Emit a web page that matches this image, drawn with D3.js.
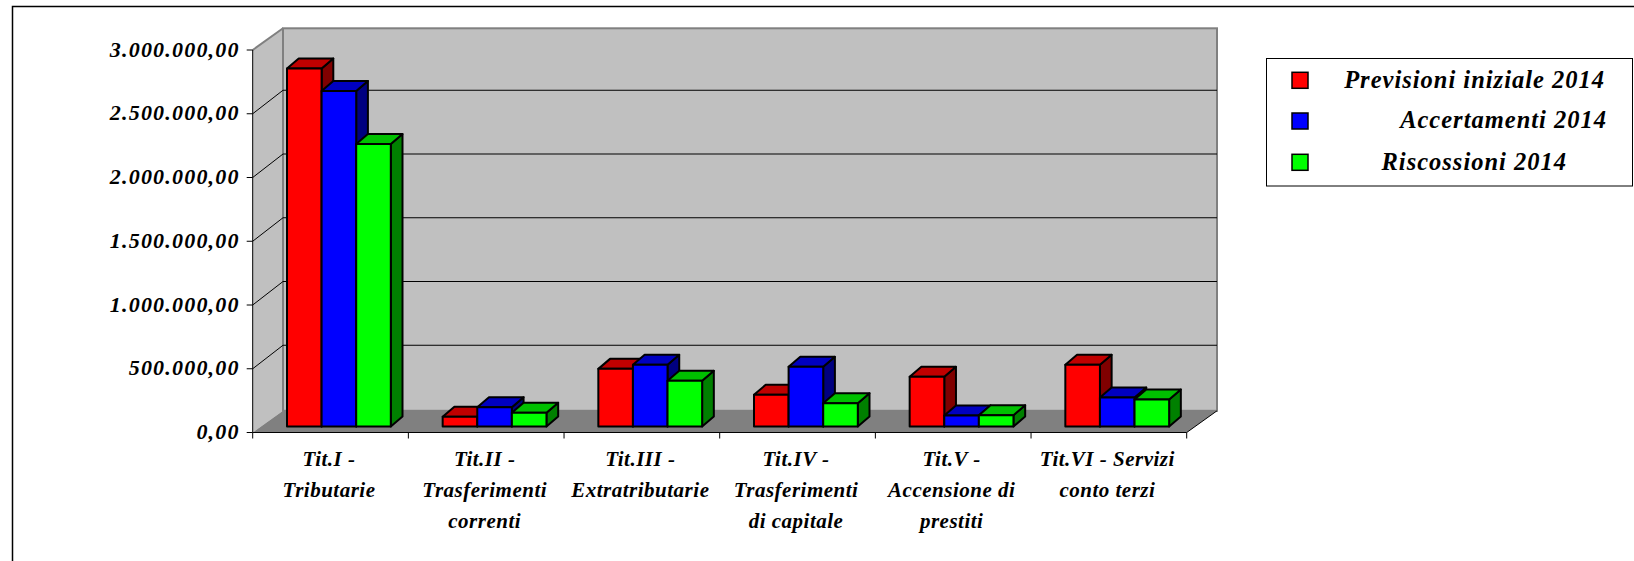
<!DOCTYPE html>
<html><head><meta charset="utf-8">
<script src="https://cdnjs.cloudflare.com/ajax/libs/d3/7.8.5/d3.min.js"></script>
<style>html,body{margin:0;padding:0;background:#fff}svg{display:block}text{font-family:"Liberation Serif",serif;font-style:italic;font-weight:bold;fill:#000}</style>
</head><body><div id="c"></div>
<script>
const categories=[["Tit.I -","Tributarie"],["Tit.II -","Trasferimenti","correnti"],["Tit.III -","Extratributarie"],["Tit.IV -","Trasferimenti","di capitale"],["Tit.V -","Accensione di","prestiti"],["Tit.VI - Servizi","conto terzi"]];
const seriesNames=["Previsioni iniziale 2014","Accertamenti 2014","Riscossioni 2014"];
const previsioni=[2808000,77000,452000,249000,390000,484000];
const accertamenti=[2632000,151000,484000,468000,86000,228000];
const riscossioni=[2215000,108000,358000,183000,89000,212000];
const yTicks=[0,500000,1000000,1500000,2000000,2500000,3000000];
const colors=[["#ff0000","#c00000","#800000"],["#0000ff","#0000c0","#000080"],["#00ff00","#00c000","#008000"]];
const W=1634,H=561;
const x0=252.7,x1=1186.7,y0=432.5,y1=50,dx=30.3,dy=-21.7,gridDy=-23.5;
const svg=d3.select("#c").append("svg").attr("width",W).attr("height",H);
svg.append("path").attr("d",`M12.5 ${H}V6.5H${W}`).attr("fill","none").attr("stroke","#000").attr("stroke-width",1.5);
const y=d3.scaleLinear().domain([0,3000000]).range([y0,y1]);
const xs=d3.scaleBand().domain(d3.range(6)).range([x0,x1]);
const pts=p=>p.map(q=>q.join(",")).join(" ");
// walls
svg.append("polygon").attr("points",pts([[x0,y0],[x0+dx,y0+dy],[x0+dx,y1+dy],[x0,y1]])).attr("fill","#c0c0c0");
svg.append("rect").attr("x",x0+dx).attr("y",y1+dy).attr("width",x1-x0).attr("height",y0-y1).attr("fill","#c0c0c0").attr("stroke","#808080").attr("stroke-width",2);
svg.append("polygon").attr("points",pts([[x0,y0],[x1,y0],[x1+dx,y0+dy],[x0+dx,y0+dy]])).attr("fill","#808080");
// gridlines
yTicks.slice(1).forEach(v=>{
  const yy=y(v);
  if(v<3000000){
    svg.append("polyline").attr("points",pts([[x0,yy],[x0+dx,yy+gridDy],[x1+dx,yy+gridDy]])).attr("fill","none").attr("stroke","#000").attr("stroke-width",1);
  } else {
    svg.append("polyline").attr("points",pts([[x0,yy],[x0+dx,yy+dy]])).attr("fill","none").attr("stroke","#808080").attr("stroke-width",2);
  }
});
// axes
svg.append("line").attr("x1",x0).attr("x2",x0).attr("y1",y1).attr("y2",y0).attr("stroke","#000");
svg.append("line").attr("x1",x0).attr("x2",x1).attr("y1",y0).attr("y2",y0).attr("stroke","#000").attr("stroke-width",1);
svg.append("line").attr("x1",x1).attr("x2",x1+dx).attr("y1",y0).attr("y2",y0+dy).attr("stroke","#000");
yTicks.forEach(v=>{
  svg.append("line").attr("x1",x0-6).attr("x2",x0).attr("y1",y(v)).attr("y2",y(v)).attr("stroke","#000");
  svg.append("text").attr("x",x0-13).attr("y",y(v)+6.5).attr("text-anchor","end").attr("font-size",22).attr("letter-spacing",1.2).text(d3.format(",.2f")(v).replace(/,/g,"#").replace(".",",").replace(/#/g,"."));
});
d3.range(7).forEach(i=>{const xx=x0+(x1-x0)*i/6;svg.append("line").attr("x1",xx).attr("x2",xx).attr("y1",y0).attr("y2",y0+6).attr("stroke","#000");});
// bars
const all=[previsioni,accertamenti,riscossioni];
const bw=34.6,bdx=11.7,bdy=-10,ox=34.3,oy=-6;
categories.forEach((c,i)=>{
  all.forEach((s,k)=>{
    const l=xs(i)+ox+k*bw,r=l+bw,b=y0+oy,t=y(s[i])+oy;
    const g=svg.append("g").attr("stroke","#000").attr("stroke-width",2).attr("stroke-linejoin","round");
    g.append("polygon").attr("points",pts([[r,b],[r+bdx,b+bdy],[r+bdx,t+bdy],[r,t]])).attr("fill",colors[k][2]);
    g.append("polygon").attr("points",pts([[l,t],[r,t],[r+bdx,t+bdy],[l+bdx,t+bdy]])).attr("fill",colors[k][1]);
    g.append("rect").attr("x",l).attr("y",t).attr("width",bw).attr("height",b-t).attr("fill",colors[k][0]);
  });
  const t=svg.append("text").attr("text-anchor","middle").attr("font-size",21).attr("letter-spacing",0.5);
  c.forEach((ln,j)=>t.append("tspan").attr("x",xs(i)+xs.bandwidth()/2-1.5).attr("y",y0+33+j*31).text(ln));
});
// legend
svg.append("rect").attr("x",1266.5).attr("y",58.5).attr("width",366).attr("height",127.5).attr("fill","#fff").attr("stroke","#000");
const legY=[80.3,121,162.3],legX=[1605,1607,1567],legBase=[88,128,170];
seriesNames.forEach((n,k)=>{
  svg.append("rect").attr("x",1292).attr("y",legY[k]-8).attr("width",16).attr("height",16).attr("fill",colors[k][0]).attr("stroke","#000").attr("stroke-width",1.5);
  svg.append("text").attr("x",legX[k]).attr("y",legBase[k]).attr("text-anchor","end").attr("font-size",24.5).attr("letter-spacing",1).text(n);
});
</script></body></html>
